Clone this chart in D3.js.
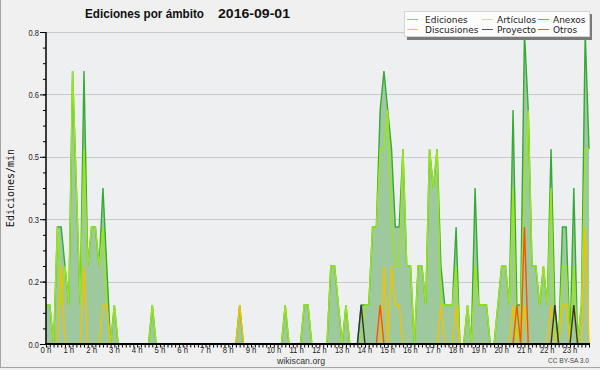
<!DOCTYPE html>
<html>
<head>
<meta charset="utf-8">
<script src="https://cdn.jsdelivr.net/npm/d3@7"></script>
<style>
  body { margin: 0; background: #f0f0f0; }
  svg { display: block; }
</style>
</head>
<body>
<div id="chart"></div>
<script>
// edits per minute, one value per 10-minute bin (144 bins)
var ediciones = [
  0.1,0.1,0,0.3,0.3,0.2,0.1,0.7,0.4,0.1,0.7,0.2,
  0.3,0.3,0.2,0.4,0.2,0,0.1,0,0,0,0,0,
  0,0,0,0,0.1,0,0,0,0,0,0,0,
  0,0,0,0,0,0,0,0,0,0,0,0,
  0,0,0,0.1,0,0,0,0,0,0,0,0,
  0,0,0,0.1,0,0,0,0,0.1,0.1,0,0,
  0,0,0,0.2,0.2,0.1,0,0.1,0,0,0,0.1,
  0.1,0.1,0.3,0.3,0.6,0.7,0.6,0.5,0.3,0.3,0.5,0.2,
  0.2,0,0.2,0.2,0.1,0.5,0.4,0.5,0.2,0.1,0.1,0.1,
  0.3,0,0,0.1,0,0.4,0.1,0.1,0.1,0,0,0.1,
  0.2,0.2,0.1,0.6,0.1,0.1,0.8,0.6,0.2,0.2,0.1,0.2,
  0.1,0.5,0.1,0,0.3,0.3,0,0.4,0,0.1,0.8,0.5
];
var articulos = [
  0.1,0.1,0,0.3,0.1,0.2,0.1,0.7,0.4,0.1,0.5,0.2,
  0.3,0.3,0.2,0.3,0.1,0,0.1,0,0,0,0,0,
  0,0,0,0,0.1,0,0,0,0,0,0,0,
  0,0,0,0,0,0,0,0,0,0,0,0,
  0,0,0,0,0,0,0,0,0,0,0,0,
  0,0,0,0.1,0,0,0,0,0.1,0.1,0,0,
  0,0,0,0.2,0.2,0.1,0,0.1,0,0,0,0,
  0.1,0.1,0.3,0.3,0.5,0.5,0.6,0.3,0.2,0.2,0.5,0.2,
  0.2,0,0.2,0.2,0.1,0.5,0.4,0.5,0.1,0.1,0.1,0.1,
  0.2,0,0,0.1,0,0.2,0.1,0.1,0.1,0,0,0.1,
  0.2,0.2,0.1,0.4,0,0.1,0.4,0.6,0.2,0.2,0.1,0.2,
  0.1,0.4,0,0,0.2,0.2,0,0.2,0,0.1,0.5,0.5
];
var discusiones = [
  0,0,0,0,0.2,0,0,0,0,0,0.2,0,
  0,0,0,0.1,0.1,0,0,0,0,0,0,0,
  0,0,0,0,0,0,0,0,0,0,0,0,
  0,0,0,0,0,0,0,0,0,0,0,0,
  0,0,0,0.1,0,0,0,0,0,0,0,0,
  0,0,0,0,0,0,0,0,0,0,0,0,
  0,0,0,0,0,0,0,0,0,0,0,0,
  0,0,0,0,0,0.2,0,0.2,0.1,0.1,0,0,
  0,0,0,0,0,0,0,0,0.1,0,0,0,
  0.1,0,0,0,0,0,0,0,0,0,0,0,
  0,0,0,0.1,0,0,0.1,0,0,0,0,0,
  0,0.1,0,0,0.1,0.1,0,0.1,0,0,0.3,0
];
var anexos = [
  0,0,0,0,0,0,0,0,0,0,0,0,
  0,0,0,0,0,0,0,0,0,0,0,0,
  0,0,0,0,0,0,0,0,0,0,0,0,
  0,0,0,0,0,0,0,0,0,0,0,0,
  0,0,0,0,0,0,0,0,0,0,0,0,
  0,0,0,0,0,0,0,0,0,0,0,0,
  0,0,0,0,0,0,0,0,0,0,0,0,
  0,0,0,0,0.1,0,0,0,0,0,0,0,
  0,0,0,0,0,0,0,0,0,0,0,0,
  0,0,0,0,0,0,0,0,0,0,0,0,
  0,0,0,0,0.1,0,0.3,0,0,0,0,0,
  0,0,0,0,0,0,0,0,0,0,0,0
];
var proyecto = [
  0,0,0,0,0,0,0,0,0,0,0,0,
  0,0,0,0,0,0,0,0,0,0,0,0,
  0,0,0,0,0,0,0,0,0,0,0,0,
  0,0,0,0,0,0,0,0,0,0,0,0,
  0,0,0,0,0,0,0,0,0,0,0,0,
  0,0,0,0,0,0,0,0,0,0,0,0,
  0,0,0,0,0,0,0,0,0,0,0,0.1,
  0,0,0,0,0,0,0,0,0,0,0,0,
  0,0,0,0,0,0,0,0,0,0,0,0,
  0,0,0,0,0,0,0,0,0,0,0,0,
  0,0,0,0,0,0,0,0,0,0,0,0,
  0,0,0.1,0,0,0,0,0.1,0,0,0,0
];
var otros = [
  0,0,0,0,0,0,0,0,0,0,0,0,
  0,0,0,0,0,0,0,0,0,0,0,0,
  0,0,0,0,0,0,0,0,0,0,0,0,
  0,0,0,0,0,0,0,0,0,0,0,0,
  0,0,0,0,0,0,0,0,0,0,0,0,
  0,0,0,0,0,0,0,0,0,0,0,0,
  0,0,0,0,0,0,0,0,0,0,0,0,
  0,0,0,0,0,0,0,0,0,0,0,0,
  0,0,0,0,0,0,0,0,0,0,0,0,
  0,0,0,0,0,0,0,0,0,0,0,0,
  0,0,0,0,0,0,0,0,0,0,0,0,
  0,0,0,0,0,0,0,0,0,0,0,0
];

var hourLabels = ["0 h","1 h","2 h","3 h","4 h","5 h","6 h","7 h","8 h","9 h","10 h","11 h",
  "12 h","13 h","14 h","15 h","16 h","17 h","18 h","19 h","20 h","21 h","22 h","23 h"];
var yTickValues = [0, 0.16, 0.32, 0.48, 0.64, 0.8];
var yTickLabels = ["0.0", "0.2", "0.3", "0.5", "0.6", "0.8"];

var legendNames = ["Ediciones", "Artículos", "Anexos", "Discusiones", "Proyecto", "Otros"];
var legendColors = ["#88cc88", "#ccee55", "#ee7744", "#f5c842", "#555555", "#9955ee"];

var width = 600;
var height = 370;
var plot = { left: 46, right: 589, top: 32, bottom: 344 };

var svg = d3.select("#chart")
    .append("svg")
    .attr("width", width)
    .attr("height", height);

svg.append("rect").attr("width", width).attr("height", height).attr("fill", "#f0f0f0");
// frame
svg.append("line").attr("x1", 0.5).attr("x2", 0.5).attr("y1", 0).attr("y2", 368)
    .attr("stroke", "#a4a4a4");
svg.append("line").attr("x1", 0).attr("x2", width).attr("y1", 367.5).attr("y2", 367.5)
    .attr("stroke", "#a4a4a4");

var x = d3.scaleLinear().domain([0, 143]).range([plot.left, plot.right]);
var y = d3.scaleLinear().domain([0, 0.8]).range([plot.bottom, plot.top]);

svg.append("rect")
    .attr("x", plot.left).attr("y", plot.top)
    .attr("width", plot.right - plot.left + 1).attr("height", plot.bottom - plot.top)
    .attr("fill", "#eeeff1");

// grid
svg.append("g")
    .selectAll("line")
    .data(yTickValues.slice(1))
    .enter()
    .append("line")
    .attr("x1", plot.left).attr("x2", plot.right + 1)
    .attr("y1", d => Math.round(y(d)) + 0.5).attr("y2", d => Math.round(y(d)) + 0.5)
    .attr("stroke", "#c9c9c9");

var area = d3.area()
    .x((d, i) => x(i))
    .y0(y(0))
    .y1(d => y(d));

var line = d3.line()
    .x((d, i) => x(i))
    .y(d => y(d));

svg.append("path").datum(ediciones).attr("d", area).attr("fill", "#9ec99e");

var series = [
  { data: ediciones, color: "#35aa35" },
  { data: articulos, color: "#9be619" },
  { data: discusiones, color: "#f2c200" },
  { data: anexos, color: "#ff5200" },
  { data: proyecto, color: "#333333" },
  { data: otros, color: "#8a3ffc" }
];

svg.append("g")
    .selectAll("path")
    .data(series)
    .enter()
    .append("path")
    .attr("d", d => line(d.data))
    .attr("fill", "none")
    .attr("stroke", d => d.color)
    .attr("stroke-width", 1.4)
    .attr("stroke-linejoin", "miter");

// y axis
var yMinor = svg.append("g")
    .attr("transform", `translate(${plot.left}, 0)`)
    .call(d3.axisLeft(y).tickValues(d3.range(21).map(k => k * 0.04)).tickSize(3).tickFormat(""));
yMinor.select(".domain").remove();

var yAxis = svg.append("g")
    .attr("transform", `translate(${plot.left}, 0)`)
    .call(d3.axisLeft(y).tickValues(yTickValues).tickSize(6).tickPadding(1)
      .tickFormat((d, i) => yTickLabels[i]));
yAxis.select(".domain").remove();
yAxis.selectAll("text")
    .attr("font-family", "'Liberation Sans', sans-serif")
    .attr("font-size", 9.5)
    .attr("textLength", 10.5)
    .attr("lengthAdjust", "spacingAndGlyphs")
    .attr("fill", "#222");

svg.selectAll(".tick line").attr("stroke", "#000");

svg.append("line")
    .attr("x1", plot.left).attr("x2", plot.left)
    .attr("y1", plot.top).attr("y2", plot.bottom)
    .attr("stroke", "#000").attr("stroke-width", 1.5);

// x axis
var xMinor = svg.append("g")
    .attr("transform", `translate(0, ${plot.bottom})`)
    .call(d3.axisBottom(x).tickValues(d3.range(144)).tickSize(3.5).tickFormat(""));
xMinor.select(".domain").remove();
xMinor.selectAll("line").attr("stroke", "#000");

svg.append("g")
    .selectAll("text")
    .data(hourLabels)
    .enter()
    .append("text")
    .attr("x", (d, i) => x(i * 6))
    .attr("y", 353)
    .attr("text-anchor", "middle")
    .attr("font-family", "'Liberation Sans', sans-serif")
    .attr("font-size", 9)
    .attr("textLength", d => d.length * 3.6)
    .attr("lengthAdjust", "spacingAndGlyphs")
    .attr("fill", "#222")
    .text(d => d);

svg.append("line")
    .attr("x1", plot.left - 1).attr("x2", plot.right + 1)
    .attr("y1", plot.bottom).attr("y2", plot.bottom)
    .attr("stroke", "#000").attr("stroke-width", 2);

// titles
var title = svg.append("text")
    .attr("y", 18)
    .attr("font-family", "'Liberation Sans', sans-serif")
    .attr("font-weight", "bold")
    .attr("fill", "#111");
title.append("tspan").attr("x", 85).attr("font-size", 12)
    .attr("textLength", 119).attr("lengthAdjust", "spacingAndGlyphs")
    .text("Ediciones por ámbito");
title.append("tspan").attr("x", 218).attr("font-size", 12.5)
    .attr("textLength", 72).attr("lengthAdjust", "spacingAndGlyphs")
    .text("2016-09-01");

svg.append("text")
    .attr("transform", "translate(14, 188) rotate(-90)")
    .attr("text-anchor", "middle")
    .attr("font-family", "'DejaVu Sans Mono', monospace")
    .attr("font-size", 10)
    .attr("fill", "#111")
    .text("Ediciones/min");

svg.append("text")
    .attr("x", 301).attr("y", 364)
    .attr("text-anchor", "middle")
    .attr("font-family", "'Liberation Sans', sans-serif")
    .attr("font-size", 9.5)
    .attr("textLength", 48)
    .attr("lengthAdjust", "spacingAndGlyphs")
    .attr("fill", "#333")
    .text("wikiscan.org");

svg.append("text")
    .attr("x", 589).attr("y", 363)
    .attr("text-anchor", "end")
    .attr("font-family", "'Liberation Sans', sans-serif")
    .attr("font-size", 8)
    .attr("textLength", 41)
    .attr("lengthAdjust", "spacingAndGlyphs")
    .attr("fill", "#444")
    .text("CC BY-SA 3.0");

// legend
var legend = svg.append("g");
legend.append("rect").attr("x", 407).attr("y", 14).attr("width", 185).attr("height", 26).attr("fill", "#7a7a7a");
legend.append("rect").attr("x", 404.5).attr("y", 11.5).attr("width", 185).attr("height", 25)
    .attr("fill", "#fcfcfc").attr("stroke", "#d4d4d4");

var colX = [407, 482, 538];
var rowY = [19.5, 29.5];
var items = legend.selectAll("g.item")
    .data(legendNames)
    .enter()
    .append("g")
    .attr("transform", (d, i) => `translate(${colX[i % 3]}, ${rowY[Math.floor(i / 3)]})`);
items.append("line")
    .attr("x1", 0).attr("x2", 11)
    .attr("stroke", (d, i) => legendColors[i])
    .attr("stroke-width", 1);
items.append("text")
    .attr("x", (d, i) => i % 3 === 0 ? 18 : 15)
    .attr("y", 3.5)
    .attr("font-family", "'DejaVu Sans', sans-serif")
    .attr("font-size", 9)
    .attr("fill", "#222")
    .text(d => d);
</script>
</body>
</html>
